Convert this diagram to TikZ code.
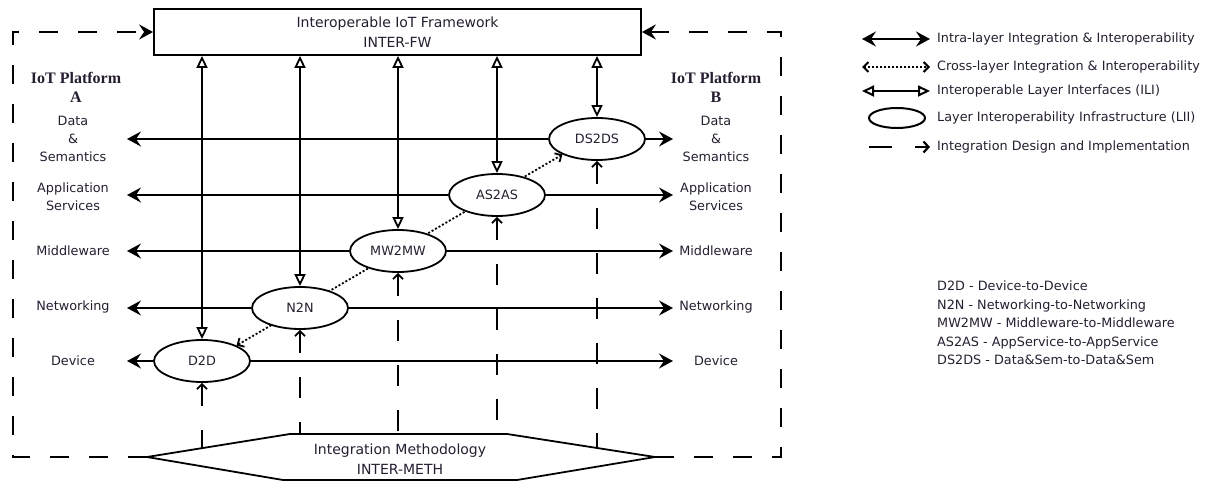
\documentclass[tikz,border=0pt]{standalone}
\usepackage{fontspec}
\setsansfont{DejaVu Sans}
\newfontfamily\platfont{Liberation Serif}
\usetikzlibrary{arrows.meta,shapes.geometric,backgrounds}
\definecolor{txtcol}{RGB}{38,30,48}

\begin{document}
\begin{tikzpicture}[x=1bp, y=-1bp,
  tipS/.tip={Stealth[length=14bp,width=15bp,inset=5bp]},
  tipB/.tip={Straight Barb[length=5bp,width=10bp]},
  tipT/.tip={Triangle[open,length=12bp,width=11bp]},
  every node/.style={font=\sffamily\fontsize{12.8bp}{18bp}\selectfont, text=txtcol},
  bigtxt/.style={align=center, font=\sffamily\fontsize{14bp}{19.5bp}\selectfont},
  platlbl/.style={align=center, font=\platfont\bfseries\fontsize{16bp}{19bp}\selectfont},
  layerlbl/.style={align=center},
  keytxt/.style={anchor=west, inner sep=0pt},
  lii/.style={draw, ellipse, fill=white, line width=1.8bp, minimum width=96bp, minimum height=42bp, inner sep=0pt},
  intra/.style={line width=1.8bp},
  ili/.style={line width=1.8bp, tipT-tipT},
  cross/.style={line width=1.8bp, dash pattern=on 2bp off 2bp, tipB-tipB},
  design/.style={line width=1.8bp, dash pattern=on 21bp off 24bp},
  frame/.style={line width=2.2bp, dash pattern=on 19bp off 20bp, -tipS}]
  \useasboundingbox (0,0) rectangle (1216,483);

  \node[draw, line width=1.8bp, minimum width=487bp, minimum height=46bp, bigtxt] (fw) at (397.5,32)
    {Interoperable IoT Framework\\INTER-FW};

  \coordinate (hexL) at (147,457);
  \coordinate (hexTL) at (290,434);
  \coordinate (hexTR) at (507,434);
  \coordinate (hexR) at (655,457);
  \coordinate (hexBR) at (517,480);
  \coordinate (hexBL) at (283,480);
  \draw[line width=1.8bp] (hexL) -- (hexTL) -- (hexTR) -- (hexR) -- (hexBR) -- (hexBL) -- cycle;
  \node[bigtxt] (meth) at (400,459) {Integration Methodology\\INTER-METH};

  \coordinate (cBL) at (13,457);
  \coordinate (cTL) at (13,32);
  \coordinate (cBR) at (781,457);
  \coordinate (cTR) at (781,32);
  \draw[frame] (hexL) -- (cBL) -- (cTL) -- (fw.west);
  \draw[frame] (hexR) -- (cBR) -- (cTR) -- (fw.east);

  \node[platlbl] (pa) at (76,87) {IoT Platform\\A};
  \node[platlbl] (pb) at (716,87) {IoT Platform\\B};

  \foreach \k/\y/\t in {1/139/{Data\\\&\\Semantics}, 2/197/{Application\\Services},
      3/251/Middleware, 4/307/Networking, 5/361/Device}{
    \node[layerlbl] (la\k) at (73,\y) {\t};
    \node[layerlbl] (lb\k) at (716,\y) {\t};
  }

  \foreach \n/\t/\x/\y/\f in {d2d/D2D/202/361/448, n2n/N2N/300/308/434,
      mw2mw/MW2MW/398/251/434, as2as/AS2AS/497/195/434, ds2ds/DS2DS/597/139/448}{
    \node[lii] (\n) at (\x,\y) {\t};
    \coordinate (\n L) at (127,\y);
    \coordinate (\n R) at (673,\y);
    \coordinate (\n F) at (\x,\f);
    \draw[intra, -tipS] (\n.west) -- (\n L);
    \draw[intra, -tipS] (\n.east) -- (\n R);
    \draw[ili] (fw.south -| \n.north) -- (\n.north);
    \draw[design, tipB-] (\n.south) -- (\n F);
  }

  \begin{scope}[on background layer]
    \draw[cross] (d2d.north east) -- (ds2ds.south west);
  \end{scope}

  % legend
  \foreach \i/\y in {1/39, 2/67, 3/91, 5/147}{
    \coordinate (ka\i) at (862,\y);
    \coordinate (kb\i) at (930,\y);
  }
  \coordinate (ka5) at (869,147);
  \draw[intra, line width=2.2bp, tipS-tipS] (ka1) -- (kb1);
  \draw[cross, line width=2bp] (ka2) -- (kb2);
  \draw[ili, line width=2bp] (ka3) -- (kb3);
  \node[draw, ellipse, line width=2bp, minimum width=56bp, minimum height=20bp] (key4) at (897,118) {};
  \draw[line width=2.2bp, dash pattern=on 23bp off 23bp, -{Straight Barb[length=5bp,width=11bp]}] (ka5) -- (kb5);

  \node[keytxt] (kt1) at (937,39) {Intra-layer Integration \& Interoperability};
  \node[keytxt] (kt2) at (937,67) {Cross-layer Integration \& Interoperability};
  \node[keytxt] (kt3) at (937,91) {Interoperable Layer Interfaces (ILI)};
  \node[keytxt] (kt4) at (937,118) {Layer Interoperability Infrastructure (LII)};
  \node[keytxt] (kt5) at (937,147) {Integration Design and Implementation};

  \node[keytxt, align=left, font=\sffamily\fontsize{12.8bp}{18.5bp}\selectfont] (abbr) at (937,323)
    {D2D - Device-to-Device\\
     N2N - Networking-to-Networking\\
     MW2MW - Middleware-to-Middleware\\
     AS2AS - AppService-to-AppService\\
     DS2DS - Data\&Sem-to-Data\&Sem};
\end{tikzpicture}
\end{document}
